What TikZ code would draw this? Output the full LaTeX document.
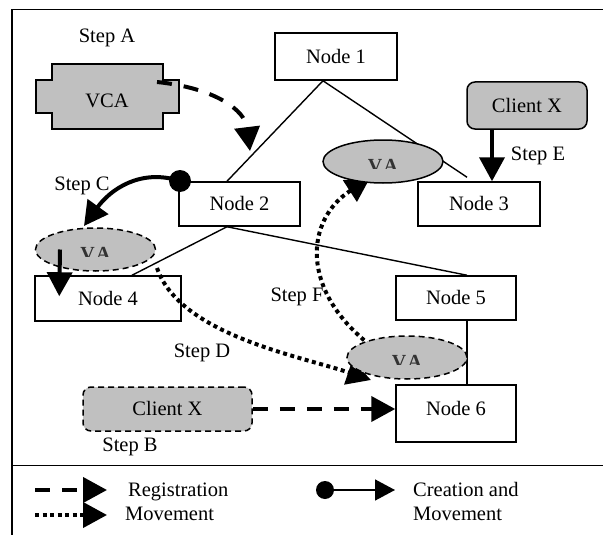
\documentclass[tikz,border=0pt]{standalone}
\usepackage{fontspec}
\setmainfont{Liberation Serif}
\usetikzlibrary{arrows.meta,shapes.geometric,calc}
\definecolor{shade}{RGB}{192,192,192}
\begin{document}
\begin{tikzpicture}[x=1pt,y=-1pt,
  every node/.style={font=\fontsize{20.5}{24}\selectfont, inner sep=0pt, text height=13.5pt, text depth=0pt},
  netnode/.style={draw, line width=1.5pt, fill=white},
  link/.style={line width=1.4pt},
  head/.style={-{Triangle[length=24pt,width=25pt]}},
  regline/.style={line width=4pt, dash pattern=on 15pt off 12pt, head},
  moveline/.style={line width=4pt, dash pattern=on 4pt off 3.5pt, head},
  createline/.style={line width=4pt, head},
  agent/.style={ellipse, draw, line width=1.5pt, fill=shade, minimum width=120pt, minimum height=43pt, text height=0pt},
  agentdashed/.style={agent, dash pattern=on 6pt off 4pt},
  client/.style={draw, line width=1.5pt, fill=shade, rounded corners=8pt},
  agentname/.style={font=\fontsize{20}{22}\selectfont\bfseries, text height=13pt, text=black!80},
  blob/.style={circle, fill=black, text height=0pt}
]
\useasboundingbox (0,0) rectangle (603,535);

% frame and legend separator
\draw[line width=1.8pt] (603,9.5) -- (12,9.5) -- (12,535);
\draw[line width=1.8pt] (12,465.5) -- (603,465.5);

% network nodes
\node[netnode, minimum width=122pt, minimum height=47pt] (n1) at (336,56.5) {Node 1};
\node[netnode, minimum width=121pt, minimum height=44pt] (n2) at (239.5,204) {Node 2};
\node[netnode, minimum width=122pt, minimum height=44pt] (n3) at (479,204) {Node 3};
\node[netnode, minimum width=146pt, minimum height=45pt] (n4) at (108,298.5) {Node 4};
\node[netnode, minimum width=120pt, minimum height=44pt] (n5) at (456,298) {Node 5};
\node[netnode, minimum width=120pt, text height=30pt, text depth=27pt] (n6) at (456,413.5) {Node 6};

% tree links
\coordinate (n1foot) at ($(n1.south)+(-13,0)$);
\coordinate (n2foot) at ($(n2.south)+(-12.5,0)$);
\draw[link] (n1foot) -- ($(n2.north)+(-12.5,0)$);
\draw[link] (n1foot) -- ($(n3.north)+(-12,-4)$);
\draw[link] (n2foot) -- ($(n4.north)+(24,0)$);
\draw[link] (n2foot) -- ($(n5.north)+(11,0)$);
\draw[link] ($(n5.south)+(11,0)$) -- ($(n6.north)+(11,0)$);

% mobile agent container
\draw[line width=1.5pt, fill=shade] (52,64) -- (163,64) -- (163,80) -- (179,80) -- (179,113) -- (163,113)
  -- (163,129) -- (52,129) -- (52,113) -- (36,113) -- (36,80) -- (52,80) -- cycle;
\node (vca) at (107,101) {VCA};

% clients
\node[client, minimum width=120pt, minimum height=47pt] (clientA) at (527,105.5) {Client X};
\node[client, dash pattern=on 6pt off 4pt, minimum width=169pt, minimum height=44pt] (clientB) at (167.5,409) {Client X};

% step labels
\node (stepA) at (107,36) {Step A};
\node (stepB) at (130,445) {Step B};
\node (stepC) at (82,184) {Step C};
\node (stepD) at (202,350.5) {Step D};
\node (stepE) at (538,153.5) {Step E};
\node (stepF) at (297,295) {Step F};

% movements drawn beneath the agents
\coordinate (dStart) at (157,268);
\coordinate (dEnd) at (371,380);
\draw[moveline] (dStart) .. controls (180,335) and (300,356) .. (dEnd);
\coordinate (fStart) at (370,345);
\coordinate (fEnd) at (370,178);
\draw[moveline] (fStart) .. controls (300,290) and (305,220) .. (fEnd);

% agents, their names cut off by the lower part of the label box
\node[agent] (va1) at (383,161.5) {};
\node[agentdashed] (va2) at (95.5,249.5) {};
\node[agentdashed] (va3) at (407,357.5) {};
\foreach \a in {va1,va2,va3}{
  \begin{scope}
    \clip ($(\a.center)+(-40,-20)$) rectangle ($(\a.center)+(40,7)$);
    \node[agentname] at ($(\a.center)+(0,4)$) {V\hspace{1.5pt}A};
  \end{scope}
}

% registration of the container
\coordinate (aStart) at (157,82);
\coordinate (aEnd) at (250,151);
\draw[regline] (aStart) .. controls (215,88) and (245,110) .. (aEnd);

% registration of the client
\draw[regline] (clientB.east) -- (clientB.east -| n6.west);

% creation and movement
\node[blob, minimum size=22pt] (cdot) at (180,181) {};
\coordinate (cEnd) at (84,226);
\draw[createline] (cdot.center) .. controls (140,168) and (110,190) .. (cEnd);

% short arrows
\draw[createline] ($(clientA.south)+(-35,0)$) -- ($(n3.north)+(13,0)$);
\draw[createline] ($(va2.center)+(-35.5,0)$) -- ($(n4.north west)+(25,21)$);

% legend
\coordinate (l1a) at (35,490);
\coordinate (l1b) at (107,490);
\draw[regline] (l1a) -- (l1b);
\coordinate (l2a) at (35,515);
\coordinate (l2b) at (107,515);
\draw[moveline] (l2a) -- (l2b);
\node[anchor=west] (lreg) at (128,490) {Registration};
\node[anchor=west] (lmov) at (125,514) {Movement};
\node[blob, minimum size=18pt] (ldot) at (325,490) {};
\coordinate (l3b) at (395,490);
\draw[line width=1.5pt, -{Triangle[length=20pt,width=21pt]}] (ldot.center) -- (l3b);
\node[anchor=west] (lcre) at (413,490) {Creation and};
\node[anchor=west] (lcmv) at (413,514) {Movement};
\end{tikzpicture}
\end{document}
